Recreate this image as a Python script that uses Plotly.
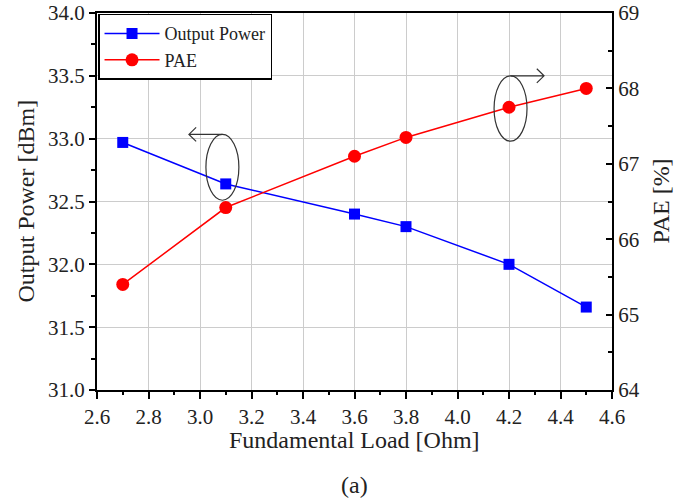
import plotly.graph_objects as go

load = [2.7, 3.1, 3.6, 3.8, 4.2, 4.5]
output_power = [32.97, 32.64, 32.40, 32.30, 32.00, 31.66]
pae = [65.40, 66.42, 67.10, 67.35, 67.75, 68.00]

FONT = "Liberation Serif"
TXT = "#222222"

fig = go.Figure()
fig.add_trace(go.Scatter(
    x=load, y=output_power, name="Output Power", mode="lines+markers",
    line=dict(color="#0000ff", width=1.5),
    marker=dict(symbol="square", size=11, color="#0000ff"),
))
fig.add_trace(go.Scatter(
    x=load, y=pae, name="PAE", mode="lines+markers", yaxis="y2",
    line=dict(color="#ff0000", width=1.5),
    marker=dict(symbol="circle", size=13, color="#ff0000"),
))

# Ellipse annotations with arrows (left axis coordinates)
ell_style = dict(type="circle", xref="x", yref="y", line=dict(color="#333333", width=1.2))
fig.add_shape(x0=3.023, x1=3.151, y0=32.51, y1=33.034, **ell_style)
fig.add_shape(x0=4.142, x1=4.270, y0=32.98, y1=33.50, **ell_style)
arrow_style = dict(type="path", xref="x", yref="y", line=dict(color="#333333", width=1.2))
fig.add_shape(path="M 3.087 33.034 L 2.957 33.034 M 2.985 33.09 L 2.957 33.034 L 2.985 32.978", **arrow_style)
fig.add_shape(path="M 4.206 33.50 L 4.336 33.50 M 4.308 33.556 L 4.336 33.50 L 4.308 33.444", **arrow_style)

tickfont = dict(family=FONT, size=21, color=TXT)
title_font = dict(family=FONT, size=24, color=TXT)
fig.update_layout(
    width=698, height=504,
    margin=dict(l=97, r=86, t=13, b=114, autoexpand=False),
    paper_bgcolor="white", plot_bgcolor="white",
    font=dict(family=FONT, color=TXT),
    showlegend=True,
    legend=dict(x=0.002, y=0.998, xanchor="left", yanchor="top",
                bordercolor="black", borderwidth=1.5, bgcolor="white",
                font=dict(family=FONT, size=18, color=TXT),
                tracegroupgap=0, itemwidth=55),
    xaxis=dict(range=[2.6, 4.6], tickvals=[2.6, 2.8, 3.0, 3.2, 3.4, 3.6, 3.8, 4.0, 4.2, 4.4, 4.6],
               ticktext=["2.6", "2.8", "3.0", "3.2", "3.4", "3.6", "3.8", "4.0", "4.2", "4.4", "4.6"],
               showgrid=True, gridcolor="#cccccc", gridwidth=1, automargin=False,
               showline=True, linecolor="black", linewidth=2, mirror=True,
               ticks="outside", ticklen=7, tickwidth=2, tickcolor="black",
               minor=dict(dtick=0.1, ticks="outside", ticklen=3, tickwidth=2, tickcolor="black", showgrid=False),
               tickfont=tickfont, zeroline=False, ticklabeloverflow="allow"),
    yaxis=dict(range=[31.0, 34.0], tickvals=[31.0, 31.5, 32.0, 32.5, 33.0, 33.5, 34.0],
               ticktext=["31.0", "31.5", "32.0", "32.5", "33.0", "33.5", "34.0"],
               showgrid=True, gridcolor="#cccccc", gridwidth=1, automargin=False,
               showline=True, linecolor="black", linewidth=2,
               ticks="outside", ticklen=6, tickwidth=2, tickcolor="black",
               minor=dict(dtick=0.25, ticks="outside", ticklen=4, tickwidth=2, tickcolor="black", showgrid=False),
               tickfont=tickfont, zeroline=False, ticklabeloverflow="allow"),
    yaxis2=dict(range=[64, 69], overlaying="y", side="right",
                tickvals=[64, 65, 66, 67, 68, 69], showgrid=False, automargin=False,
                showline=True, linecolor="black", linewidth=2,
                ticks="inside", ticklen=6, tickwidth=2, tickcolor="black",
                minor=dict(dtick=0.5, ticks="inside", ticklen=4, tickwidth=2, tickcolor="black", showgrid=False),
                tickfont=tickfont, zeroline=False, ticklabeloverflow="allow"),
    annotations=[
        dict(text="Fundamental Load [Ohm]", xref="paper", yref="paper", x=0.5, y=0,
             yanchor="middle", xanchor="center", yshift=-50, showarrow=False, font=title_font),
        dict(text="(a)", xref="paper", yref="paper", x=0.5, y=0,
             yanchor="middle", xanchor="center", yshift=-95, showarrow=False, font=title_font),
        dict(text="Output Power [dBm]", xref="paper", yref="paper", x=0, y=0.5,
             xanchor="center", yanchor="middle", xshift=-72, textangle=-90, showarrow=False, font=title_font),
        dict(text="PAE [%]", xref="paper", yref="paper", x=1, y=0.5,
             xanchor="center", yanchor="middle", xshift=48, textangle=-90, showarrow=False, font=title_font),
    ],
)

fig.write_html("out.html")
